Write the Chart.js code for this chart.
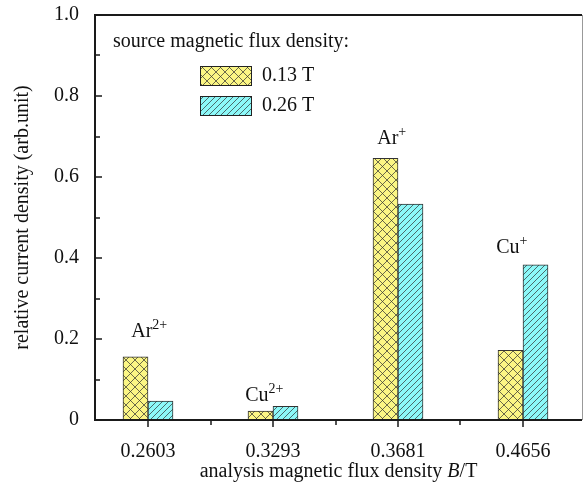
<!DOCTYPE html>
<html>
<head>
<meta charset="utf-8">
<script src="https://cdn.jsdelivr.net/npm/chart.js@4/dist/chart.umd.min.js"></script>
<style>
  body { margin: 0; background: #fff; }
  canvas { display: block; }
</style>
</head>
<body>
<canvas id="ourChart" width="583" height="495"></canvas>
<script>
// data
var categories = ["0.2603", "0.3293", "0.3681", "0.4656"];
var values013 = [0.156, 0.022, 0.646, 0.172];
var values026 = [0.047, 0.034, 0.533, 0.383];
var yTicks = [0, 0.2, 0.4, 0.6, 0.8, 1.0];
var ionNames = ["Ar", "Cu", "Ar", "Cu"];
var ionCharges = ["2+", "2+", "+", "+"];
var seriesNames = ["0.13 T", "0.26 T"];

// where the ion labels sit (x in category units, y in value units of the baseline)
var ionLabelPos = [[1.01, 0.206], [1.93, 0.047], [2.95, 0.681], [3.91, 0.412]];

var serif = '"Liberation Serif", "Times New Roman", serif';

function makePattern(fill, cross, size) {
    var c = document.createElement('canvas');
    c.width = size;
    c.height = size;
    var g = c.getContext('2d');
    g.fillStyle = fill;
    g.fillRect(0, 0, size, size);
    g.strokeStyle = 'rgba(50,50,50,0.8)';
    g.lineWidth = 0.9;
    g.beginPath();
    g.moveTo(-1, size + 1);
    g.lineTo(size + 1, -1);
    if (cross) {
        g.moveTo(-1, -1);
        g.lineTo(size + 1, size + 1);
    }
    g.stroke();
    return g.createPattern(c, 'repeat');
}

var ourCanvas = document.getElementById('ourChart');
var yellowHatch = makePattern('#fbf684', true, 9);
var cyanHatch = makePattern('#8cf8f8', false, 6);

function toPoints(arr) {
    return arr.map(function (v, i) { return { x: i + 1, y: v }; });
}

var framePlugin = {
    id: 'frame',
    afterDraw: function (chart) {
        var ctx = chart.ctx;
        var a = chart.chartArea;
        var xs = chart.scales.x;
        var ys = chart.scales.y;
        ctx.save();

        // box
        ctx.strokeStyle = '#1a1a1a';
        ctx.lineWidth = 2;
        ctx.beginPath();
        ctx.moveTo(a.right, a.top);
        ctx.lineTo(a.left, a.top);
        ctx.lineTo(a.left, a.bottom);
        ctx.lineTo(a.right, a.bottom);
        ctx.stroke();
        ctx.lineWidth = 1;
        ctx.strokeStyle = '#999';
        ctx.beginPath();
        ctx.moveTo(a.right + 0.5, a.top);
        ctx.lineTo(a.right + 0.5, a.bottom);
        ctx.stroke();

        // y ticks, pointing inside
        ctx.strokeStyle = '#1a1a1a';
        ctx.lineWidth = 1.5;
        ctx.beginPath();
        for (var t = 0; t <= 10; t++) {
            var py = Math.round(ys.getPixelForValue(t / 10));
            var len = t % 2 === 0 ? 7 : 5;
            ctx.moveTo(a.left, py);
            ctx.lineTo(a.left + len, py);
        }
        // x ticks, pointing outside
        for (var k = 1; k <= 4; k += 0.5) {
            var px = Math.round(xs.getPixelForValue(k));
            var l2 = k % 1 === 0 ? 7 : 5;
            ctx.moveTo(px, a.bottom);
            ctx.lineTo(px, a.bottom + l2);
        }
        ctx.stroke();

        // ion labels
        ctx.fillStyle = '#111';
        ctx.textBaseline = 'alphabetic';
        ctx.textAlign = 'left';
        for (var i = 0; i < ionNames.length; i++) {
            var cx = xs.getPixelForValue(ionLabelPos[i][0]);
            var by = ys.getPixelForValue(ionLabelPos[i][1]);
            ctx.font = '20px ' + serif;
            var w1 = ctx.measureText(ionNames[i]).width;
            ctx.font = '14px ' + serif;
            var w2 = ctx.measureText(ionCharges[i]).width;
            var x0 = cx - (w1 + w2) / 2;
            ctx.font = '20px ' + serif;
            ctx.fillText(ionNames[i], x0, by);
            ctx.font = '14px ' + serif;
            ctx.fillText(ionCharges[i], x0 + w1, by - 8);
        }

        // legend
        ctx.font = '20px ' + serif;
        ctx.textBaseline = 'middle';
        ctx.fillText('source magnetic flux density:', 113, 42);
        var fills = [yellowHatch, cyanHatch];
        for (var s = 0; s < 2; s++) {
            var top = 66 + s * 30;
            ctx.fillStyle = fills[s];
            ctx.fillRect(200, top, 52, 20);
            ctx.strokeStyle = '#222';
            ctx.lineWidth = 1;
            ctx.strokeRect(200.5, top + 0.5, 51, 19);
            ctx.fillStyle = '#111';
            ctx.fillText(seriesNames[s], 262, top + 10);
        }

        // axis titles
        ctx.textBaseline = 'alphabetic';
        var p1 = 'analysis magnetic flux density ';
        ctx.font = 'italic 20px ' + serif;
        var wb = ctx.measureText('B').width;
        ctx.font = '20px ' + serif;
        var wp1 = ctx.measureText(p1).width;
        var wp2 = ctx.measureText('/T').width;
        var tx = (a.left + a.right) / 2 - (wp1 + wb + wp2) / 2;
        ctx.fillText(p1, tx, 477);
        ctx.font = 'italic 20px ' + serif;
        ctx.fillText('B', tx + wp1, 477);
        ctx.font = '20px ' + serif;
        ctx.fillText('/T', tx + wp1 + wb, 477);

        ctx.translate(28, (a.top + a.bottom) / 2);
        ctx.rotate(-Math.PI / 2);
        ctx.textAlign = 'center';
        ctx.fillText('relative current density (arb.unit)', 0, 0);
        ctx.restore();
    }
};

var chartElement = new Chart(ourCanvas, {
    type: 'bar',
    data: {
        datasets: [
            {
                label: seriesNames[0],
                data: toPoints(values013),
                backgroundColor: yellowHatch,
                borderColor: '#333',
                borderWidth: 1,
                barThickness: 25
            },
            {
                label: seriesNames[1],
                data: toPoints(values026),
                backgroundColor: cyanHatch,
                borderColor: '#333',
                borderWidth: 1,
                barThickness: 25
            }
        ]
    },
    options: {
        responsive: false,
        animation: false,
        devicePixelRatio: 1,
        layout: { padding: { left: 0, right: 1, top: 15, bottom: 0 } },
        plugins: {
            legend: { display: false },
            tooltip: { enabled: false }
        },
        scales: {
            x: {
                type: 'linear',
                offset: false,
                min: 0.576,
                max: 4.472,
                grid: { display: false, drawTicks: false, offset: false },
                border: { display: false },
                afterBuildTicks: function (scale) {
                    scale.ticks = categories.map(function (c, i) { return { value: i + 1 }; });
                },
                afterFit: function (scale) {
                    scale.height = 75;
                    scale.paddingLeft = 0;
                    scale.paddingRight = 0;
                },
                ticks: {
                    autoSkip: false,
                    maxRotation: 0,
                    padding: 20,
                    color: '#111',
                    font: { family: serif, size: 20 },
                    callback: function (v) { return categories[Math.round(v) - 1]; }
                }
            },
            y: {
                min: 0,
                max: 1,
                grid: { display: false, drawTicks: false },
                border: { display: false },
                afterBuildTicks: function (scale) {
                    scale.ticks = yTicks.map(function (v) { return { value: v }; });
                },
                afterFit: function (scale) {
                    scale.width = 95;
                    scale.paddingTop = 0;
                    scale.paddingBottom = 0;
                },
                ticks: {
                    padding: 16,
                    color: '#111',
                    font: { family: serif, size: 20 },
                    callback: function (v) { return v === 0 ? '0' : v.toFixed(1); }
                }
            }
        }
    },
    plugins: [framePlugin]
});
</script>
</body>
</html>
